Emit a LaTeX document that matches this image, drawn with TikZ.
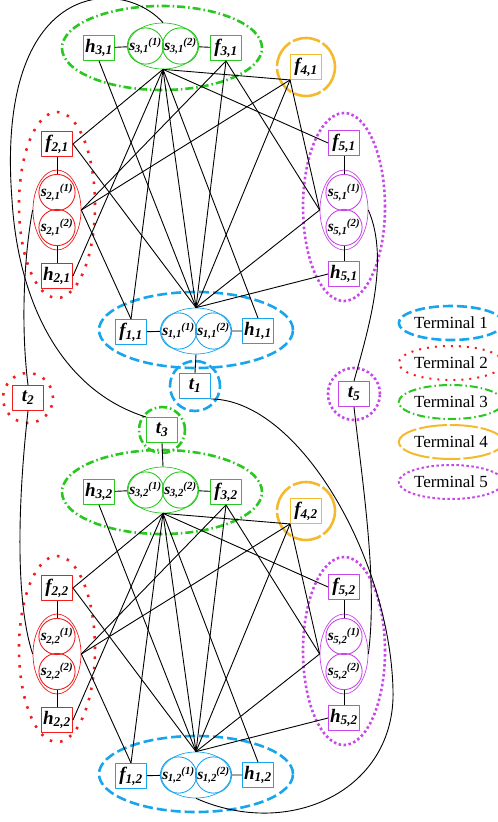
\documentclass[tikz,border=0pt]{standalone}
\usepackage{fontspec}
\setmainfont{Liberation Serif}
\usepackage{xcolor}
\usepackage{tikz}
\usetikzlibrary{shapes.geometric}

\definecolor{tblue}{RGB}{25,165,235}
\definecolor{tred}{RGB}{240,30,30}
\definecolor{tgreen}{RGB}{40,200,30}
\definecolor{torange}{RGB}{245,185,45}
\definecolor{tpurple}{RGB}{200,70,235}

\newcommand{\vb}[2]{\fontsize{19}{19}\selectfont\bfseries\itshape #1\textsubscript{#2}}
\newcommand{\vs}[2]{\fontsize{15.5}{15.5}\selectfont\bfseries\itshape s\kern-0.5pt\textsubscript{#1}\kern-0.5pt\textsuperscript{(#2)}}

\begin{document}
\begin{tikzpicture}[x=1pt,y=-1pt,line join=round,
  box/.style={draw,rectangle,minimum width=31pt,minimum height=25pt,inner sep=0.5pt,line width=0.9pt},
  sv/.style={draw,circle,minimum size=35pt,inner sep=0pt,line width=0.9pt},
  pairh/.style={draw,ellipse,minimum width=70pt,minimum height=46pt,inner sep=0pt,line width=0.7pt},
  pairv/.style={draw,ellipse,minimum width=48pt,minimum height=80pt,inner sep=0pt,line width=0.7pt},
  link/.style={black,line width=0.9pt},
  term1/.style={draw=tblue,line width=2.6pt,dash pattern=on 10pt off 4pt},
  term2/.style={draw=tred,line width=2.6pt,dash pattern=on 2.5pt off 8pt},
  term3/.style={draw=tgreen,line width=2.6pt,dash pattern=on 8pt off 3pt on 1.5pt off 3pt},
  term4/.style={draw=torange,line width=2.6pt,dash pattern=on 28pt off 3pt},
  term5/.style={draw=tpurple,line width=2.6pt,dash pattern=on 2.5pt off 2.5pt},
  legend/.style={ellipse,minimum width=92pt,minimum height=34pt,inner sep=0pt,line width=2pt,font=\fontsize{17}{17}\selectfont}]
  \useasboundingbox (0,0) rectangle (498,822);

  % copy 1
  \node[box,draw=tgreen] (h31) at (99,48) {\vb{h}{3,1}};
  \node[pairh,draw=tgreen] (S31) at (163,46) {};
  \node[sv,draw=tgreen] (s31a) at (145.5,46) {\vs{3,1}{1}};
  \node[sv,draw=tgreen] (s31b) at (180.5,46) {\vs{3,1}{2}};
  \node[box,draw=tgreen] (f31) at (226,48) {\vb{f}{3,1}};
  \node[box,draw=torange] (f41) at (306,67) {\vb{f}{4,1}};
  \node[box,draw=tred] (f21) at (57,144) {\vb{f}{2,1}};
  \node[pairv,draw=tred] (S21) at (57,210) {};
  \node[sv,draw=tred] (s21a) at (57,192.5) {\vs{2,1}{1}};
  \node[sv,draw=tred] (s21b) at (57,227.5) {\vs{2,1}{2}};
  \node[box,draw=tred] (h21) at (57,276) {\vb{h}{2,1}};
  \node[box,draw=tpurple] (f51) at (344,143) {\vb{f}{5,1}};
  \node[pairv,draw=tpurple] (S51) at (344,210) {};
  \node[sv,draw=tpurple] (s51a) at (344,192.5) {\vs{5,1}{1}};
  \node[sv,draw=tpurple] (s51b) at (344,227.5) {\vs{5,1}{2}};
  \node[box,draw=tpurple] (h51) at (344,274) {\vb{h}{5,1}};
  \node[box,draw=tblue] (f11) at (131,332) {\vb{f}{1,1}};
  \node[pairh,draw=tblue] (S11) at (196,331) {};
  \node[sv,draw=tblue] (s11a) at (178.5,331) {\vs{1,1}{1}};
  \node[sv,draw=tblue] (s11b) at (213.5,331) {\vs{1,1}{2}};
  \node[box,draw=tblue] (h11) at (258,331) {\vb{h}{1,1}};

  % terminals
  \node[box,draw=tblue] (t1) at (195,386) {\vb{t}{1}};
  \node[box,draw=tred] (t2) at (28,398) {\vb{t}{2}};
  \node[box,draw=tgreen] (t3) at (162,430) {\vb{t}{3}};
  \node[box,draw=tpurple] (t5) at (354,394) {\vb{t}{5}};

  % copy 2
  \node[box,draw=tgreen] (h32) at (99,492) {\vb{h}{3,2}};
  \node[pairh,draw=tgreen] (S32) at (163,490) {};
  \node[sv,draw=tgreen] (s32a) at (145.5,490) {\vs{3,2}{1}};
  \node[sv,draw=tgreen] (s32b) at (180.5,490) {\vs{3,2}{2}};
  \node[box,draw=tgreen] (f32) at (226,492) {\vb{f}{3,2}};
  \node[box,draw=torange] (f42) at (306,511) {\vb{f}{4,2}};
  \node[box,draw=tred] (f22) at (57,588) {\vb{f}{2,2}};
  \node[pairv,draw=tred] (S22) at (57,654) {};
  \node[sv,draw=tred] (s22a) at (57,636.5) {\vs{2,2}{1}};
  \node[sv,draw=tred] (s22b) at (57,671.5) {\vs{2,2}{2}};
  \node[box,draw=tred] (h22) at (57,720) {\vb{h}{2,2}};
  \node[box,draw=tpurple] (f52) at (344,587) {\vb{f}{5,2}};
  \node[pairv,draw=tpurple] (S52) at (344,654) {};
  \node[sv,draw=tpurple] (s52a) at (344,636.5) {\vs{5,2}{1}};
  \node[sv,draw=tpurple] (s52b) at (344,671.5) {\vs{5,2}{2}};
  \node[box,draw=tpurple] (h52) at (344,718) {\vb{h}{5,2}};
  \node[box,draw=tblue] (f12) at (131,776) {\vb{f}{1,2}};
  \node[pairh,draw=tblue] (S12) at (196,775) {};
  \node[sv,draw=tblue] (s12a) at (178.5,775) {\vs{1,2}{1}};
  \node[sv,draw=tblue] (s12b) at (213.5,775) {\vs{1,2}{2}};
  \node[box,draw=tblue] (h12) at (258,775) {\vb{h}{1,2}};

  % groups
  \draw[term3] (162,48) ellipse [x radius=100pt,y radius=42pt];
  \draw[term2] (57,205) ellipse [x radius=38pt,y radius=93pt];
  \draw[term5] (344,207) ellipse [x radius=41pt,y radius=94pt];
  \draw[term1] (196,330) ellipse [x radius=97pt,y radius=38pt];
  \draw[term4] (306,67) circle [radius=29pt];
  \draw[term3] (162,492) ellipse [x radius=100pt,y radius=42pt];
  \draw[term2] (57,649) ellipse [x radius=38pt,y radius=93pt];
  \draw[term5] (344,651) ellipse [x radius=41pt,y radius=94pt];
  \draw[term1] (196,774) ellipse [x radius=97pt,y radius=38pt];
  \draw[term4] (306,511) circle [radius=29pt];
  \draw[term1] (t1) circle [radius=25pt];
  \draw[term2] (t2) circle [radius=25pt];
  \draw[term3] (t3) circle [radius=23pt];
  \draw[term5] (t5) circle [radius=26pt];

  % inner links
  \draw[link] (h31) -- (s31a) (s31b) -- (f31);
  \draw[link] (f21) -- (s21a) (s21b) -- (h21);
  \draw[link] (f51) -- (s51a) (s51b) -- (h51);
  \draw[link] (f11) -- (s11a) (s11b) -- (h11);
  \draw[link] (h32) -- (s32a) (s32b) -- (f32);
  \draw[link] (f22) -- (s22a) (s22b) -- (h22);
  \draw[link] (f52) -- (s52a) (s52b) -- (h52);
  \draw[link] (f12) -- (s12a) (s12b) -- (h12);

  % cross links, copy 1
  \draw[link] (S31.south) -- (f21.east);
  \draw[link] (S31.south) -- (h21.east);
  \draw[link] (S31.south) -- (f11.north);
  \draw[link] (S31.south) -- (h11.north);
  \draw[link] (S31.south) -- (f41.south west);
  \draw[link] (S31.south) -- (f51.west);
  \draw[link] (S31.south) -- (S11.north);
  \draw[link] (f31.south) -- (S21.east);
  \draw[link] (f31.south) -- (S11.north);
  \draw[link] (f31.south) -- (S51.west);
  \draw[link] (f41.south west) -- (S21.east);
  \draw[link] (f41.south west) -- (S11.north);
  \draw[link] (f41.south west) -- (S51.west);
  \draw[link] (h31.south) -- (S11.north);
  \draw[link] (f21.east) -- (S11.north);
  \draw[link] (S21.east) -- (f11.north);
  \draw[link] (S11.north) -- (S51.west);
  \draw[link] (S11.north) -- (h51.west);

  % cross links, copy 2
  \draw[link] (S32.south) -- (f22.east);
  \draw[link] (S32.south) -- (h22.east);
  \draw[link] (S32.south) -- (f12.north);
  \draw[link] (S32.south) -- (h12.north);
  \draw[link] (S32.south) -- (f42.south west);
  \draw[link] (S32.south) -- (f52.west);
  \draw[link] (S32.south) -- (S12.north);
  \draw[link] (f32.south) -- (S22.east);
  \draw[link] (f32.south) -- (S12.north);
  \draw[link] (f32.south) -- (S52.west);
  \draw[link] (f42.south west) -- (S22.east);
  \draw[link] (f42.south west) -- (S12.north);
  \draw[link] (f42.south west) -- (S52.west);
  \draw[link] (h32.south) -- (S12.north);
  \draw[link] (f22.east) -- (S12.north);
  \draw[link] (S22.east) -- (f12.north);
  \draw[link] (S12.north) -- (S52.west);
  \draw[link] (S12.north) -- (h52.west);

  % terminal links
  \draw[link] (S11.south) -- (t1.north);
  \draw[link] (t3.south) -- (S32.north);
  \draw[link] (S31.north) .. controls (120,-25) and (-5,-20) .. (12,200)
    .. controls (18,300) and (60,390) .. (t3.north west);
  \draw[link] (t2.north) .. controls (20,320) and (25,250) .. (S21.west);
  \draw[link] (t2.south) .. controls (18,500) and (15,600) .. (S22.west);
  \draw[link] (S51.east) .. controls (390,260) and (368,330) .. (t5.north);
  \draw[link] (t5.south) .. controls (362,480) and (378,580) .. (S52.east);
  \draw[link] (t1.south east) .. controls (300,400) and (390,560) .. (393,690)
    .. controls (396,790) and (290,840) .. (S12.south);

  % legend
  \node[legend,term1] (L1) at (451,323) {Terminal 1};
  \node[legend,term2,line width=2pt,dash pattern=on 2pt off 6pt] (L2) at (451,363) {Terminal 2};
  \node[legend,term3,line width=2pt] (L3) at (451,402) {Terminal 3};
  \node[legend,term4,line width=2pt] (L4) at (451,442) {Terminal 4};
  \node[legend,term5,line width=2pt] (L5) at (451,482) {Terminal 5};
\end{tikzpicture}
\end{document}
